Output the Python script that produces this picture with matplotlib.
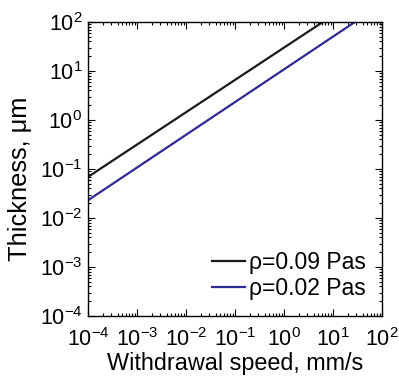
import numpy as np
import matplotlib
matplotlib.use('Agg')
import matplotlib.pyplot as plt
import matplotlib.ticker as ticker

plt.rcParams['font.family'] = ['Liberation Sans', 'DejaVu Sans']
plt.rcParams['mathtext.default'] = 'regular'

# end points of the two straight lines (log-log)
speed_high = [1e-4, 6.2]
thick_high = [0.069, 100]
speed_low = [1e-4, 28]
thick_low = [0.023, 100]
labels = ['ρ=0.09 Pas', 'ρ=0.02 Pas']

fig = plt.figure(figsize=(3.99, 3.76), dpi=100)
ax = fig.add_axes([88/399, 1 - 316/376, 294/399, 294/376])

ax.plot(speed_high, thick_high, color='#1a1a1a', lw=1.6, label=labels[0])
ax.plot(speed_low, thick_low, color='#2e2a94', lw=1.6, label=labels[1])

ax.set_xscale('log')
ax.set_yscale('log')
ax.set_xlim(1e-4, 1e2)
ax.set_ylim(1e-4, 1e2)
ax.xaxis.set_major_locator(ticker.LogLocator(base=10, numticks=10))
ax.yaxis.set_major_locator(ticker.LogLocator(base=10, numticks=10))
ax.xaxis.set_minor_locator(ticker.LogLocator(base=10, subs=np.arange(2, 10), numticks=20))
ax.yaxis.set_minor_locator(ticker.LogLocator(base=10, subs=np.arange(2, 10), numticks=20))
ax.xaxis.set_minor_formatter(ticker.NullFormatter())
ax.yaxis.set_minor_formatter(ticker.NullFormatter())

ax.tick_params(which='both', direction='in', top=True, right=True, labelsize=15.5, width=0.8)
ax.tick_params(which='major', length=5)
ax.tick_params(axis='x', which='major', pad=8.5)
ax.tick_params(axis='y', which='major', pad=4)
ax.tick_params(which='minor', length=2.5)
for s in ax.spines.values():
    s.set_linewidth(1.0)

ax.set_xlabel('Withdrawal speed, mm/s', fontsize=16.8)
ax.xaxis.set_label_coords(0.5, -0.124)
ax.set_ylabel('Thickness, μm', fontsize=18.3)
ax.yaxis.set_label_coords(-0.19, 0.466)

ax.legend(loc='lower right', frameon=False, fontsize=16.5, handlelength=1.4,
          handletextpad=0.2, borderaxespad=0.3, labelspacing=0.15)

fig.savefig('out.png', dpi=100)
